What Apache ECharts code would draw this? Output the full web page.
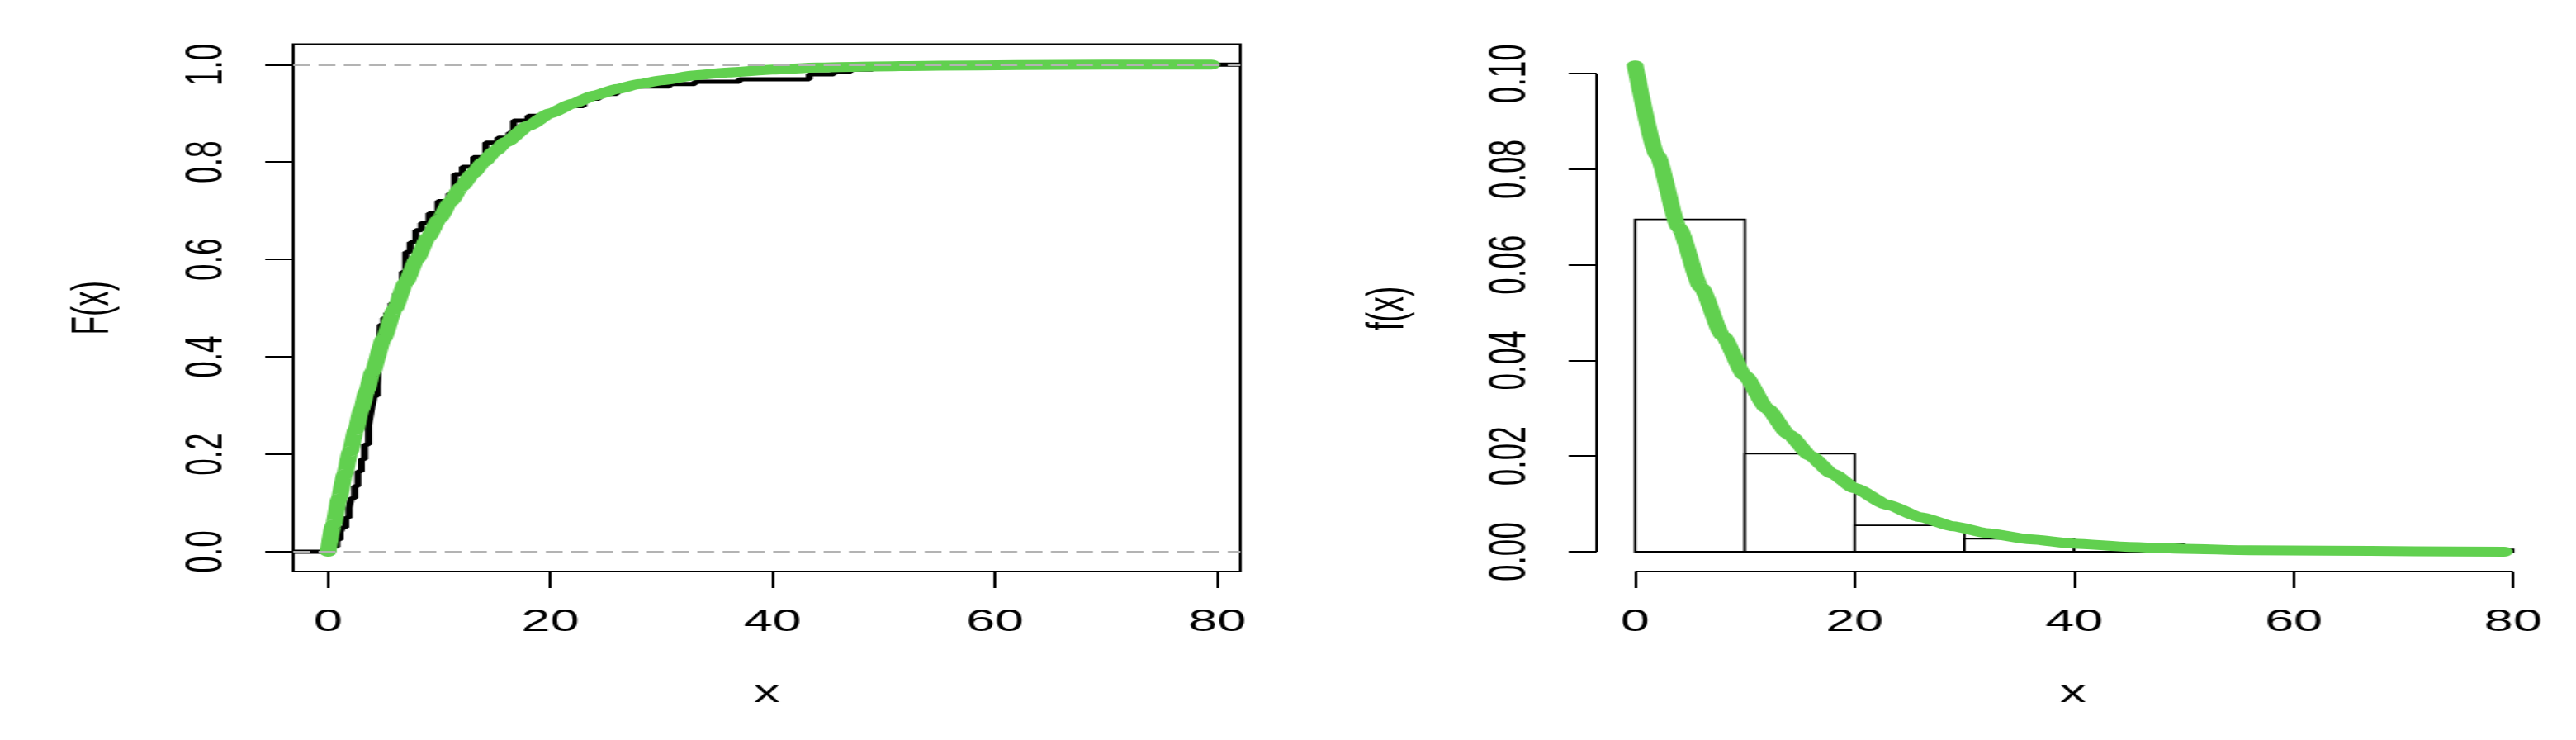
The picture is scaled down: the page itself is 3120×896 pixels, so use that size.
<!DOCTYPE html>
<html>
<head>
<meta charset="utf-8">
<script src="https://cdn.jsdelivr.net/npm/echarts@6.0.0/dist/echarts.min.js"></script>
<style>
    html, body { margin: 0; padding: 0; background: #fff; overflow: hidden; }
    /* 原图横向拉伸了约 1.7 倍，这里整体横向缩放 */
    #chart { width: 1836px; height: 896px; transform: scaleX(1.699346); transform-origin: 0 0; }
</style>
</head>
<body>
<div id="chart"></div>
<script>
// 左图：经验分布函数（阶梯线）
const ecdfX = [-3.12, 0.4, 0.8, 1.1, 1.3, 1.6, 1.9, 2.1, 2.4, 2.7, 3.0, 3.3, 3.65, 3.9, 4.15, 4.45, 4.6, 4.7, 5.0, 5.3,
    5.7, 6.1, 6.4, 6.7, 7.0, 7.4, 7.9, 8.4, 9.1, 9.9, 10.9, 11.4, 12.1, 13.1, 14.2, 15.3, 16.3, 16.7, 18.0, 19.4,
    20.5, 21.6, 23.0, 24.4, 26.0, 30.7, 33.0, 37.0, 43.3, 45.5, 47.0, 49.0, 79.1, 82.08]
const ecdfY = [0, 0.01, 0.025, 0.04, 0.05, 0.07, 0.09, 0.11, 0.135, 0.165, 0.19, 0.22, 0.26, 0.29, 0.32, 0.34, 0.40, 0.466, 0.48, 0.49,
    0.51, 0.53, 0.545, 0.575, 0.615, 0.635, 0.66, 0.675, 0.695, 0.72, 0.735, 0.775, 0.79, 0.81, 0.84, 0.85, 0.86, 0.885, 0.895, 0.90,
    0.91, 0.915, 0.93, 0.94, 0.955, 0.96, 0.965, 0.97, 0.98, 0.985, 0.99, 0.995, 1.0, 1.0]
// 左图：拟合的分布函数（绿线）
const cdfX = [0, 0.5, 1, 1.5, 2, 2.5, 3, 3.5, 4, 5, 6, 7, 8, 9, 10, 11, 12, 13, 14, 15,
    16, 18, 20, 22, 24, 26, 28, 30, 33, 36, 40, 44, 48, 55, 62, 70, 79.5]
const cdfY = [0, 0.056, 0.109, 0.159, 0.206, 0.250, 0.292, 0.331, 0.369, 0.437, 0.498, 0.553, 0.601, 0.645, 0.683, 0.718, 0.749, 0.776, 0.800, 0.822,
    0.841, 0.874, 0.900, 0.920, 0.937, 0.950, 0.960, 0.968, 0.978, 0.984, 0.990, 0.994, 0.996, 0.998, 0.999, 1.0, 1.0]

// 右图：直方图（密度）
const binStart = [0, 10, 20, 30, 40, 50, 60, 70]
const binEnd = [10, 20, 30, 40, 50, 60, 70, 80]
const binDensity = [0.0695, 0.0205, 0.0055, 0.0027, 0.0017, 0, 0, 0.0005]
// 右图：拟合的密度曲线（绿线）
const densX = [0, 2, 4, 6, 8, 10, 12, 14, 16, 18, 20, 23, 26, 29, 32, 36, 40, 45, 50, 56,
    63, 71, 79.2]
const densY = [0.1017, 0.0830, 0.0677, 0.0553, 0.0451, 0.0368, 0.0300, 0.0245, 0.0200, 0.0163, 0.0133, 0.0098, 0.0072, 0.0053, 0.0039, 0.0026, 0.0017, 0.0010, 0.0006, 0.0003,
    0.0002, 0.0001, 0]

// 刻度
const xTicks = [0, 20, 40, 60, 80]
const cdfTicks = [0, 0.2, 0.4, 0.6, 0.8, 1.0]
const densTicks = [0, 0.02, 0.04, 0.06, 0.08, 0.1]

// 坐标范围（R 默认两端各延伸 4%）
const cdfXRange = [-3.12, 82.08]
const cdfYRange = [-0.0407, 1.042]
const densXRange = [-3.5, 83.3]
const densYRange = [-0.00415, 0.1059]

const font = 'Liberation Sans, Arial, sans-serif'
const green = '#61D04F'

const zip = (xs, ys) => xs.map((x, i) => [x, ys[i]])

// 坐标轴公共配置
function axis(gridIndex, range, ticks, fmt, name, rotate, nameGap) {
    return {
        gridIndex: gridIndex,
        type: 'value',
        min: range[0],
        max: range[1],
        name: name,
        nameLocation: 'middle',
        nameGap: nameGap,
        nameRotate: rotate ? 90 : 0,
        nameTextStyle: { color: '#000', fontSize: 37, fontFamily: font },
        axisLine: { show: false, onZero: false },
        splitLine: { show: false },
        axisTick: {
            show: true,
            length: 20,
            customValues: ticks,
            lineStyle: { color: '#000', width: 2 }
        },
        axisLabel: {
            show: true,
            customValues: ticks,
            formatter: fmt,
            rotate: rotate ? 90 : 0,
            margin: 43,
            color: '#000',
            fontSize: 37,
            fontFamily: font
        }
    }
}

const chart = echarts.init(document.getElementById('chart'))

const option = {
    animation: false,
    backgroundColor: '#fff',
    grid: [
        { left: 209, top: 53.5, width: 675, height: 638.5, show: true, borderColor: '#000', borderWidth: 2, backgroundColor: 'transparent' },
        { left: 1138, top: 55, width: 679, height: 637 }
    ],
    xAxis: [
        axis(0, cdfXRange, xTicks, v => String(v), 'x', false, 129),
        axis(1, densXRange, xTicks, v => String(v), 'x', false, 129)
    ],
    yAxis: [
        axis(0, cdfYRange, cdfTicks, v => v.toFixed(1), 'F(x)', true, 124),
        axis(1, densYRange, densTicks, v => v.toFixed(2), 'f(x)', true, 130)
    ],
    series: [
        // 经验分布函数
        {
            type: 'line',
            xAxisIndex: 0,
            yAxisIndex: 0,
            step: 'end',
            data: zip(ecdfX, ecdfY),
            showSymbol: false,
            lineStyle: { color: '#000', width: 5 },
            markLine: {
                silent: true,
                symbol: 'none',
                label: { show: false },
                lineStyle: { color: '#b3b3b3', type: [12, 6], width: 2 },
                data: [{ yAxis: 0 }, { yAxis: 1 }]
            }
        },
        // 拟合分布函数
        {
            type: 'line',
            xAxisIndex: 0,
            yAxisIndex: 0,
            data: zip(cdfX, cdfY),
            smooth: 0.2,
            smoothMonotone: 'x',
            showSymbol: false,
            lineStyle: { color: green, width: 12, cap: 'round', join: 'round' }
        },
        // 直方图
        {
            type: 'custom',
            xAxisIndex: 1,
            yAxisIndex: 1,
            data: binStart.map((s, i) => [s, binEnd[i], binDensity[i]]),
            encode: { x: [0, 1], y: 2 },
            renderItem: function(params, api) {
                const p0 = api.coord([api.value(0), 0])
                const p1 = api.coord([api.value(1), api.value(2)])
                return {
                    type: 'rect',
                    shape: { x: p0[0], y: p1[1], width: p1[0] - p0[0], height: p0[1] - p1[1] },
                    style: { fill: '#fff', stroke: '#000', lineWidth: 1.8 }
                }
            }
        },
        // 拟合密度曲线
        {
            type: 'line',
            xAxisIndex: 1,
            yAxisIndex: 1,
            data: zip(densX, densY),
            smooth: 0.2,
            smoothMonotone: 'x',
            showSymbol: false,
            lineStyle: { color: green, width: 12, cap: 'round', join: 'round' }
        },
        // 右图坐标轴线（只画到首末刻度）
        {
            type: 'line',
            xAxisIndex: 1,
            yAxisIndex: 1,
            clip: false,
            silent: true,
            showSymbol: false,
            data: [[xTicks[0], densYRange[0]], [xTicks[xTicks.length - 1], densYRange[0]]],
            lineStyle: { color: '#000', width: 2 }
        },
        {
            type: 'line',
            xAxisIndex: 1,
            yAxisIndex: 1,
            clip: false,
            silent: true,
            showSymbol: false,
            data: [[densXRange[0], densTicks[0]], [densXRange[0], densTicks[densTicks.length - 1]]],
            lineStyle: { color: '#000', width: 2 }
        }
    ]
}

chart.setOption(option)
</script>
</body>
</html>
